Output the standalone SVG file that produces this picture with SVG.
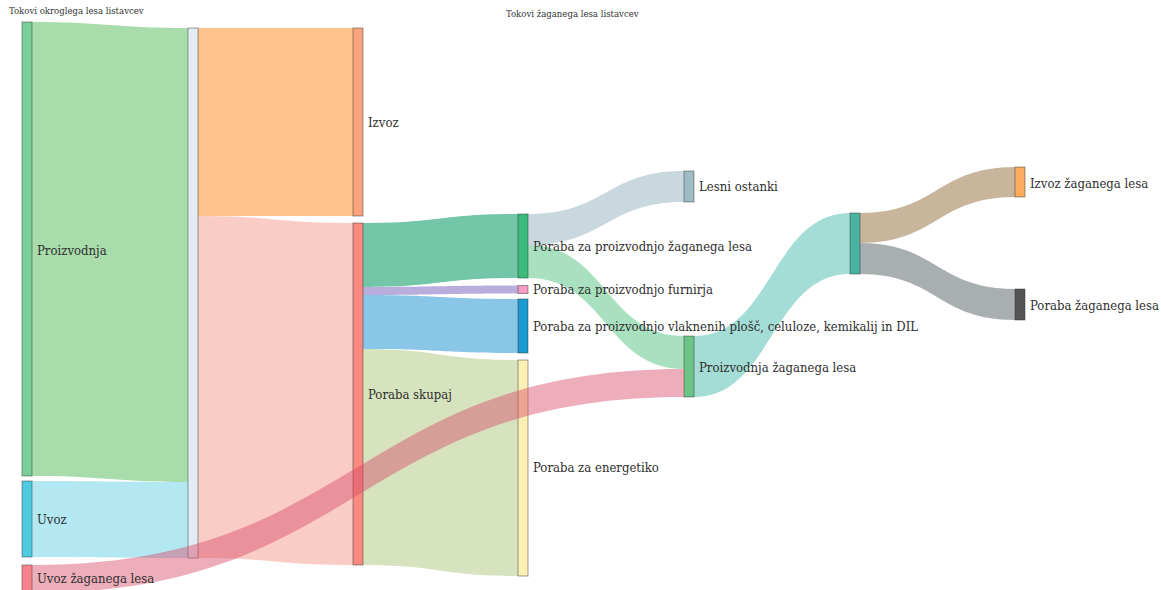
<svg xmlns="http://www.w3.org/2000/svg" width="1161" height="590" viewBox="0 0 1161 590">
  <style>
    .node rect { stroke: rgba(40,40,40,0.45); stroke-width: 1; }
    text { font-family: "DejaVu Serif", "Liberation Serif", serif; font-stretch: condensed; }
    .lbl { font-size: 13px; fill: #2f2f2f; }
    .title { font-size: 9.5px; fill: #333; }
  </style>
  <rect width="1161" height="590" fill="#ffffff"/>

  <text class="title" x="9" y="14">Tokovi okroglega lesa listavcev</text>
  <text class="title" x="506" y="17">Tokovi žaganega lesa listavcev</text>

  <!-- flows between stages -->
  <g id="links">
    <path fill="#a9dcab" d="M32,22 C110,22 110,28 188,28 L188,482 C110,482 110,476 32,476 Z"/>
    <path fill="#b3e7f2" d="M32,481 C110,481 110,482 188,482 L188,558 C110,558 110,557 32,557 Z"/>
    <path fill="#fdc38a" d="M198,28 C275,28 275,28 353,28 L353,216 C275,216 275,216 198,216 Z"/>
    <path fill="#f9ccc6" d="M198,216 C275,216 275,223 353,223 L353,565 C275,565 275,558 198,558 Z"/>
    <path fill="#74c6a9" d="M363,223 C440,223 440,214 518,214 L518,278 C440,278 440,287 363,287 Z"/>
    <path fill="#b9aedb" d="M363,287 C440,287 440,285.5 518,285.5 L518,293.5 C440,293.5 440,295 363,295 Z"/>
    <path fill="#8ac6e8" d="M363,295 C440,295 440,299 518,299 L518,353 C440,353 440,349 363,349 Z"/>
    <path fill="#d7e3be" d="M363,349 C440,349 440,360 518,360 L518,576 C440,576 440,565 363,565 Z"/>
    <path fill="#c9d7de" d="M528,214 C606,214 606,171 684,171 L684,202 C606,202 606,245 528,245 Z"/>
    <path fill="#a8e0c0" d="M528,245 C606,245 606,336 684,336 L684,369 C606,369 606,278 528,278 Z"/>
    <path fill="#a3ddd5" d="M694,336 C772,336 772,213 850,213 L850,274 C772,274 772,397 694,397 Z"/>
    <path fill="#c9b59c" d="M860,213 C937,213 937,167 1015,167 L1015,197 C937,197 937,243 860,243 Z"/>
    <path fill="#a9aeb1" d="M860,243 C937,243 937,289 1015,289 L1015,320 C937,320 937,274 860,274 Z"/>
  </g>

  <g id="n-proizvodnja" class="node"><rect x="22" y="22" width="10" height="454" fill="#7acf98"/><text class="lbl" x="37" y="255">Proizvodnja</text></g>
  <g id="n-uvoz" class="node"><rect x="22" y="481" width="10" height="76" fill="#4fcadf"/><text class="lbl" x="37" y="524">Uvoz</text></g>
  <g id="n-skupaj" class="node"><rect x="188" y="28" width="10" height="530" fill="#e3ecf2"/></g>
  <g id="n-izvoz" class="node"><rect x="353" y="28" width="10" height="188" fill="#fca27c"/><text class="lbl" x="368" y="127">Izvoz</text></g>
  <g id="n-poraba-skupaj" class="node"><rect x="353" y="223" width="10" height="342" fill="#fa8a80"/><text class="lbl" x="368" y="399">Poraba skupaj</text></g>
  <g id="n-p-zag" class="node"><rect x="518" y="214" width="10" height="64" fill="#3dbb7c"/><text class="lbl" x="533" y="251">Poraba za proizvodnjo žaganega lesa</text></g>
  <g id="n-p-furnir" class="node"><rect x="518" y="285.5" width="10" height="8" fill="#f79cc6"/><text class="lbl" x="533" y="294">Poraba za proizvodnjo furnirja</text></g>
  <g id="n-p-vlak" class="node"><rect x="518" y="299" width="10" height="54" fill="#1a9ad0"/><text class="lbl" x="533" y="331">Poraba za proizvodnjo vlaknenih plošč, celuloze, kemikalij in DIL</text></g>
  <g id="n-p-energ" class="node"><rect x="518" y="360" width="10" height="216" fill="#fbefb3"/><text class="lbl" x="533" y="472">Poraba za energetiko</text></g>
  <g id="n-lesni" class="node"><rect x="684" y="171" width="10" height="31" fill="#9fbcc4"/><text class="lbl" x="699" y="191">Lesni ostanki</text></g>
  <g id="n-proizv-zag" class="node"><rect x="684" y="336" width="10" height="61" fill="#6cc488"/><text class="lbl" x="699" y="372">Proizvodnja žaganega lesa</text></g>
  <g id="n-zag-skupaj" class="node"><rect x="850" y="213" width="10" height="61" fill="#4ab3a0"/></g>
  <g id="n-izvoz-zag" class="node"><rect x="1015" y="167" width="10" height="30" fill="#fdab5f"/><text class="lbl" x="1030" y="188">Izvoz žaganega lesa</text></g>
  <g id="n-poraba-zag" class="node"><rect x="1015" y="289" width="10" height="31" fill="#555555"/><text class="lbl" x="1030" y="310">Poraba žaganega lesa</text></g>

  <!-- imported sawn wood flow, drawn across the intermediate stages -->
  <g id="links-overlay">
    <path fill="rgb(214,74,104)" fill-opacity="0.45" d="M32,565 C358,565 358,369 684,369 L684,397 C358,397 358,593 32,593 Z"/>
  </g>

  <g id="n-uvoz-zag" class="node"><rect x="22" y="565" width="10" height="28" fill="#f7838a"/><text class="lbl" x="37" y="583">Uvoz žaganega lesa</text></g>
</svg>
